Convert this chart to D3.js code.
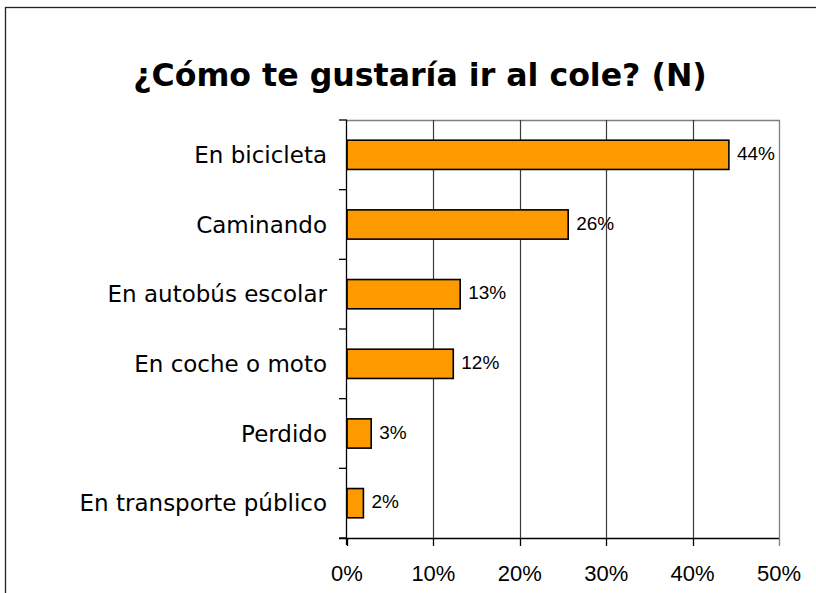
<!DOCTYPE html>
<html>
<head>
<meta charset="utf-8">
<script src="https://cdn.jsdelivr.net/npm/d3@7"></script>
<style>
  body { margin: 0; background: #fff; }
  svg { display: block; }
  .cat_labels { font-family: "Comic Sans MS", "DejaVu Sans", sans-serif; font-size: 23px; fill: #000; }
  .tick_labels { font-family: "Liberation Sans", Arial, sans-serif; font-size: 22px; fill: #000; }
  .data_labels { font-family: "Liberation Sans", Arial, sans-serif; font-size: 19px; fill: #000; }
  .title { font-family: "Comic Sans MS", "DejaVu Sans", sans-serif; font-weight: bold; fill: #000; }
</style>
</head>
<body>
<svg id="svg-chart" width="816" height="593"></svg>
<script>
var categories = ["En bicicleta", "Caminando", "En autobús escolar",
                  "En coche o moto", "Perdido", "En transporte público"];
var values = [0.442, 0.256, 0.131, 0.123, 0.028, 0.019];
var valueLabels = ["44%", "26%", "13%", "12%", "3%", "2%"];
var xTicks = [0, 0.1, 0.2, 0.3, 0.4, 0.5];
var titleText = "¿Cómo te gustaría ir al cole? (N)";

var svg = d3.select("#svg-chart");
var x0 = 347, x1 = 779, y0 = 120, y1 = 538;

var xScale = d3.scaleLinear()
               .domain([0, 0.5])
               .range([x0, x1]);
var yScale = d3.scaleBand()
               .domain(categories)
               .range([y0, y1])
               .paddingInner(0.58)
               .paddingOuter(0.29);

// outer frame (runs off the right and bottom edges)
svg.append("rect")
    .attr("x", 5.5)
    .attr("y", 7.5)
    .attr("width", 900)
    .attr("height", 700)
    .style("fill", "none")
    .style("stroke", "#222")
    .style("stroke-width", 1.3);

// title, fitted to the reference width
var title = svg.append("text")
    .attr("class", "title")
    .attr("x", 420)
    .attr("y", 86)
    .style("font-size", "30px")
    .style("text-anchor", "middle")
    .text(titleText);
var tw = title.node().getComputedTextLength();
title.style("font-size", (30 * 574 / tw) + "px");

// plot area top and right border
svg.append("path")
    .attr("d", "M" + x0 + "," + (y0 + 0.5) + "H" + (x1 + 0.5) + "V" + y1)
    .style("fill", "none")
    .style("stroke", "#808080")
    .style("stroke-width", 1.3);

// gridlines
svg.selectAll("grid")
    .data(xTicks.slice(1, -1))
    .enter()
    .append("line")
    .attr("x1", function(d) { return Math.round(xScale(d)) + 0.5; })
    .attr("x2", function(d) { return Math.round(xScale(d)) + 0.5; })
    .attr("y1", y0)
    .attr("y2", y1)
    .style("stroke", "#3a3a3a")
    .style("stroke-width", 1.2);

// bars
svg.selectAll("bars")
    .data(values)
    .enter()
    .append("rect")
    .attr("x", xScale(0))
    .attr("y", function(d, i) { return yScale(categories[i]); })
    .attr("width", function(d) { return xScale(d) - xScale(0); })
    .attr("height", yScale.bandwidth())
    .style("fill", "#FF9900")
    .style("stroke", "#000")
    .style("stroke-width", 1.6);

// value labels
svg.selectAll("vals")
    .data(values)
    .enter()
    .append("text")
    .attr("class", "data_labels")
    .attr("x", function(d) { return xScale(d) + 8; })
    .attr("y", function(d, i) { return yScale(categories[i]) + yScale.bandwidth() / 2 + 5; })
    .text(function(d, i) { return valueLabels[i]; });

// left axis
svg.append("line")
    .attr("x1", x0 - 0.5).attr("x2", x0 - 0.5)
    .attr("y1", y0).attr("y2", y1 + 7)
    .style("stroke", "#000").style("stroke-width", 1.3);
var step = (y1 - y0) / categories.length;
svg.selectAll("yticks")
    .data(d3.range(categories.length + 1))
    .enter()
    .append("line")
    .attr("x1", x0 - 8)
    .attr("x2", x0)
    .attr("y1", function(d) { return y0 + d * step; })
    .attr("y2", function(d) { return y0 + d * step; })
    .style("stroke", "#000")
    .style("stroke-width", 1.3);

svg.selectAll("cats")
    .data(categories)
    .enter()
    .append("text")
    .attr("class", "cat_labels")
    .attr("x", 327)
    .attr("y", function(d) { return yScale(d) + yScale.bandwidth() / 2 + 8; })
    .style("text-anchor", "end")
    .text(function(d) { return d; });

// bottom axis
svg.append("line")
    .attr("x1", x0 - 8).attr("x2", x1 + 0.5)
    .attr("y1", y1 + 0.5).attr("y2", y1 + 0.5)
    .style("stroke", "#000").style("stroke-width", 1.3);
svg.selectAll("xticks")
    .data(xTicks)
    .enter()
    .append("line")
    .attr("x1", function(d) { return Math.round(xScale(d)) + 0.5; })
    .attr("x2", function(d) { return Math.round(xScale(d)) + 0.5; })
    .attr("y1", y1)
    .attr("y2", y1 + 8)
    .style("stroke", function(d) { return d == 0.5 ? "#808080" : "#000"; })
    .style("stroke-width", 1.3);
svg.selectAll("xlabels")
    .data(xTicks)
    .enter()
    .append("text")
    .attr("class", "tick_labels")
    .attr("x", function(d) { return xScale(d); })
    .attr("y", 581)
    .style("text-anchor", "middle")
    .text(function(d) { return d3.format(".0%")(d); });
</script>
</body>
</html>
